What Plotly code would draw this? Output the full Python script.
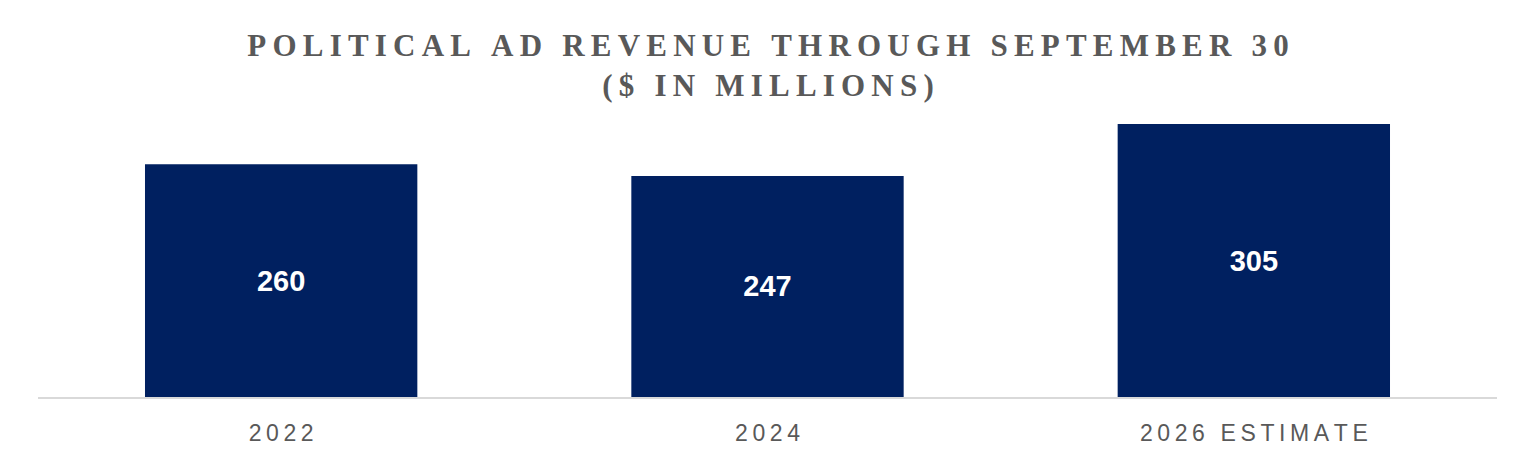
import plotly.graph_objects as go

# Dati
years = ["2022", "2024", "2026 ESTIMATE"]
revenue = [260, 247, 305]
value_labels = ["260", "247", "305"]

title_lines = ["POLITICAL AD REVENUE THROUGH SEPTEMBER 30", "($ IN MILLIONS)"]


def spaced(s, sep="\u2009"):
    # simula la spaziatura tra lettere
    return sep.join(s)


fig = go.Figure()
fig.add_trace(go.Bar(
    x=years, y=revenue,
    marker=dict(color="#002060", line=dict(width=0)),
    text=value_labels, textposition="inside", insidetextanchor="middle",
    textfont=dict(family="Liberation Sans", size=29, color="white", weight="bold"),
    textangle=0,
))

fig.update_layout(
    width=1536, height=455,
    paper_bgcolor="white", plot_bgcolor="white",
    margin=dict(l=38, r=39, t=124, b=58),
    bargap=0.44,
    showlegend=False,
    title=dict(
        text="<br>".join(spaced(t) for t in title_lines),
        x=0.5, xanchor="center", y=1 - 56 / 455, yanchor="middle",
        font=dict(family="Liberation Serif", size=31, color="#595959", weight="bold"),
    ),
    xaxis=dict(
        tickvals=years, ticktext=[spaced(y, "\u2009") for y in years],
        tickfont=dict(family="Liberation Sans", size=23, color="#595959"),
        showline=True, linecolor="#d9d9d9", linewidth=2,
        ticks="", showgrid=False, ticklabelstandoff=14, automargin=False,
    ),
    yaxis=dict(range=[0, 305], visible=False, showgrid=False),
)

fig.write_html("out.html", config={"displayModeBar": False},
               post_script="document.body.style.margin='0';")
